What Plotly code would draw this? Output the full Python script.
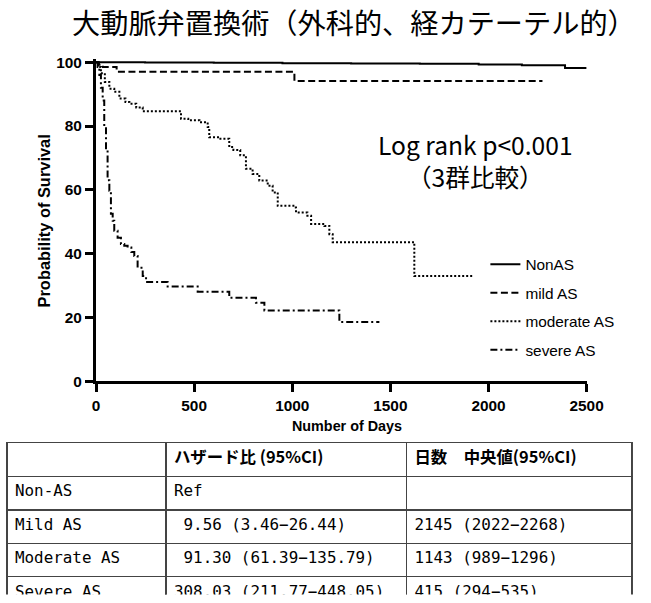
import plotly.graph_objects as go

# ---------------- data ----------------
nonas_days = [0, 250, 600, 950, 1300, 1650, 1950, 2170, 2390, 2500]
nonas_surv = [100, 99.9, 99.8, 99.7, 99.6, 99.5, 99.3, 99.0, 98.2, 98.2]

mild_days = [0, 15, 35, 105, 1011, 2275]
mild_surv = [100, 99.2, 98.5, 97.0, 94.1, 94.1]

moderate_days = [0, 10, 25, 45, 68, 93, 119, 150, 170, 205, 238, 433, 470, 527, 569, 577,
                 628, 679, 700, 735, 764, 798, 832, 875, 900, 926, 1011, 1019, 1077, 1096,
                 1164, 1189, 1206, 1622, 1920]
moderate_surv = [100, 98.5, 96.5, 93.8, 91.7, 90.7, 88.6, 87.5, 87.0, 85.8, 84.6, 82.3, 81.8,
                 81.2, 79.7, 76.5, 76.0, 73.4, 72.5, 70.8, 66.6, 65.0, 62.9, 61.3, 59.2, 55.0,
                 54.5, 52.9, 51.9, 49.3, 48.7, 46.1, 43.6, 33.0, 33.0]

severe_days = [0, 8, 17, 25, 34, 42, 51, 59, 68, 76, 85, 93, 110, 127, 144, 161, 180, 195,
               212, 238, 255, 365, 518, 679, 815, 858, 1240, 1444]
severe_surv = [100, 98.5, 96, 92, 88, 80, 72.3, 63, 59.7, 52.5, 50.3, 47.2, 45, 43.0, 42.5,
               41.9, 40.5, 39.3, 35.6, 33.0, 31.1, 29.7, 28.1, 26.2, 24.6, 22.2, 18.6, 18.6]

series_names = ["NonAS", "mild AS", "moderate AS", "severe AS"]
series_dash = ["solid", "7px,3.5px", "2px,2px", "7px,3px,2px,3px"]

x_ticks = [0, 500, 1000, 1500, 2000, 2500]
y_ticks = [0, 20, 40, 60, 80, 100]

title_text = "大動脈弁置換術（外科的、経カテーテル的）"
logrank_line1 = "Log rank p&lt;0.001"
logrank_line2 = "（3群比較）"
x_title = "<b>Number of Days</b>"
y_title = "<b>Probability of Survival</b>"

table_header = ["", "ハザード比 (95%CI)", "日数　中央値(95%CI)"]
table_groups = ["Non-AS", "Mild AS", "Moderate AS", "Severe AS"]
table_hr = ["Ref", " 9.56 (3.46−26.44)", " 91.30 (61.39−135.79)", "308.03 (211.77−448.05)"]
table_median = ["", "2145 (2022−2268)", "1143 (989−1296)", "415 (294−535)"]

# ---------------- figure ----------------
W, H = 651, 603
S, OX, OY = 0.975, 4, 5   # the viewer shows the page slightly reduced; compensate


def fx(x):
    return (x - OX) / S / W


def fy(y):
    return 1 - (y - OY) / S / H


def fs(size):
    return size / S


def nb(texts):
    # non-breaking spaces keep plotly's table from wrapping / growing rows
    return [t.replace(" ", "\u00a0") for t in texts]


fig = go.Figure()

all_days = [nonas_days, mild_days, moderate_days, severe_days]
all_surv = [nonas_surv, mild_surv, moderate_surv, severe_surv]
for i, (d, s) in enumerate(zip(all_days, all_surv)):
    fig.add_trace(go.Scatter(
        x=d, y=s, mode="lines", name=series_names[i], legendgroup=f"g{i}",
        line=dict(color="black", width=2, dash=series_dash[i], shape="hv"),
        hoverinfo="skip"))

hfont = dict(family="Noto Sans CJK JP", size=fs(16), color="black", weight="bold")
cfont = dict(family="DejaVu Sans Mono", size=fs(15.5), color="black")
fig.add_trace(go.Table(
    domain=dict(x=[fx(7), min(fx(641), 649 / W)], y=[0, fy(441)]),
    columnwidth=[160, 242, 227],
    header=dict(values=nb(table_header), height=33 / S, align="left", font=hfont,
                line=dict(color="#444", width=1.5), fill_color="white"),
    cells=dict(values=[nb(table_groups), nb(table_hr), nb(table_median)], height=32.6 / S,
               align="left", font=cfont, line=dict(color="#444", width=1.5), fill_color="white"),
))

axis_common = dict(showgrid=False, zeroline=False, showline=True, linecolor="black", linewidth=3,
                   ticks="outside", ticklen=8, tickwidth=2.5, tickcolor="black",
                   tickfont=dict(size=fs(15), weight="bold", family="Liberation Sans"))

fig.update_layout(
    width=W, height=H,
    margin=dict(l=0, r=0, t=0, b=0),
    paper_bgcolor="white", plot_bgcolor="white",
    font=dict(family="Liberation Sans", color="black"),
    xaxis=dict(domain=[fx(96.7), fx(591)], range=[0, 2500], tickvals=x_ticks, **axis_common),
    yaxis=dict(domain=[fy(380), fy(58.8)], range=[0, 101], tickvals=y_ticks, **axis_common),
    legend=dict(x=fx(489), y=fy(247), xanchor="left", yanchor="top",
                bgcolor="rgba(0,0,0,0)", font=dict(size=fs(15), family="Liberation Sans"),
                traceorder="grouped", tracegroupgap=5.5),
    showlegend=True,
)

fig.add_annotation(x=fx(357), y=fy(21), xref="paper", yref="paper", text=title_text,
                   showarrow=False, font=dict(size=fs(27.5), family="Noto Sans CJK JP", color="black"),
                   xanchor="center", yanchor="middle")
fig.add_annotation(x=fx(479), y=fy(144), xref="paper", yref="paper", text=logrank_line1,
                   showarrow=False, font=dict(size=fs(24), family="Noto Sans CJK JP", color="black"),
                   xanchor="center", yanchor="middle")
fig.add_annotation(x=fx(479), y=fy(175), xref="paper", yref="paper", text=logrank_line2,
                   showarrow=False, font=dict(size=fs(24), family="Noto Sans CJK JP", color="black"),
                   xanchor="center", yanchor="middle")
fig.add_annotation(x=fx(350), y=fy(425), xref="paper", yref="paper", text=x_title,
                   showarrow=False, font=dict(size=fs(14), family="Liberation Sans", color="black"),
                   xanchor="center", yanchor="middle")
fig.add_annotation(x=fx(44), y=fy(220), xref="paper", yref="paper", text=y_title, textangle=-90,
                   showarrow=False, font=dict(size=fs(16), family="Liberation Sans", color="black"),
                   xanchor="center", yanchor="middle")

fig.write_html("out.html")
